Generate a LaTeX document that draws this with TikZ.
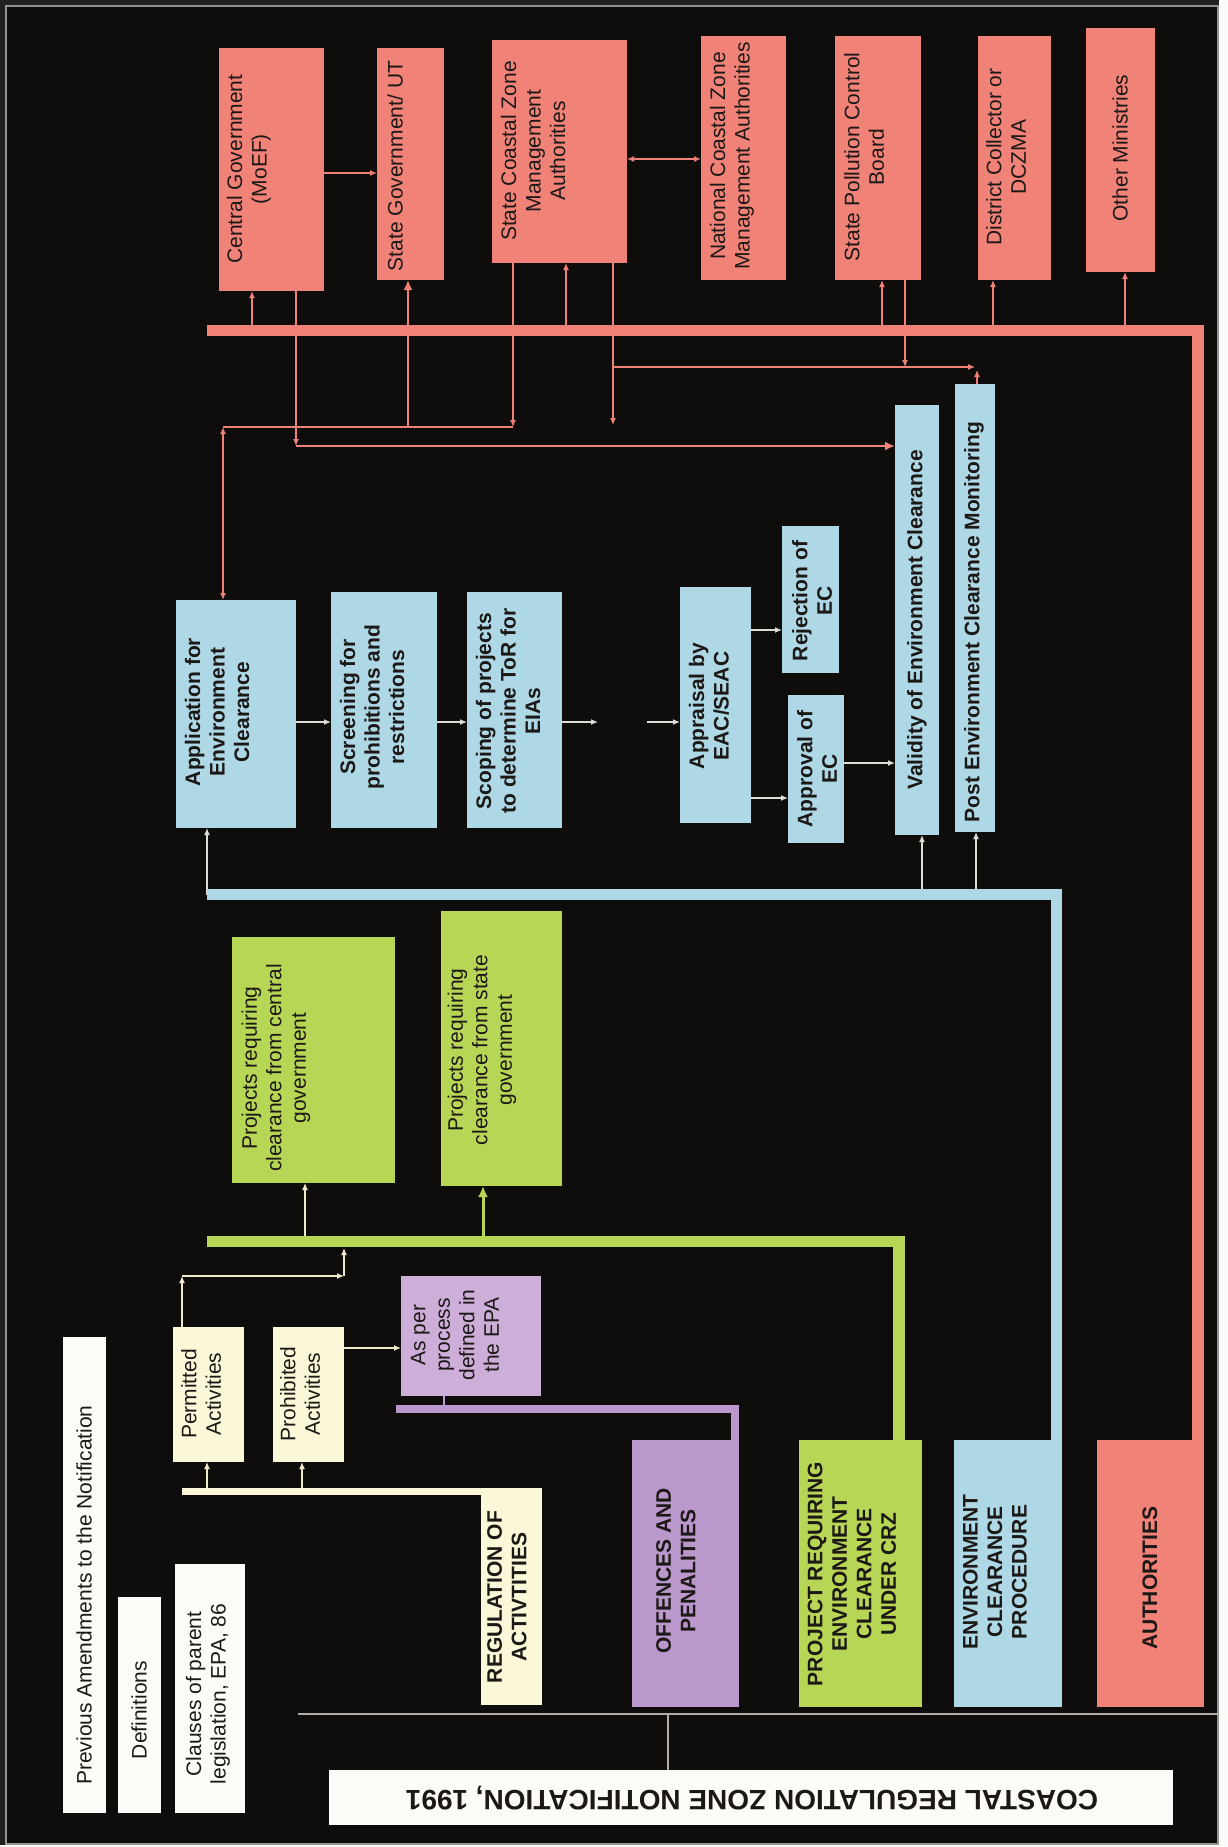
\documentclass[tikz,border=0pt]{standalone}
\usepackage{fontspec}
\setmainfont{Liberation Sans}
\usetikzlibrary{arrows.meta,calc}
\definecolor{bgc}{RGB}{14,13,11}
\definecolor{outc}{RGB}{34,33,32}
\definecolor{framec}{RGB}{150,148,145}
\definecolor{sal}{RGB}{240,130,120}
\definecolor{lbl}{RGB}{174,216,230}
\definecolor{grn}{RGB}{184,214,86}
\definecolor{pur}{RGB}{187,152,204}
\definecolor{purl}{RGB}{205,174,216}
\definecolor{crm}{RGB}{250,248,216}
\definecolor{wht}{RGB}{253,251,248}
\definecolor{txtc}{RGB}{28,24,22}
\definecolor{arrw}{RGB}{222,220,212}
\definecolor{arrc}{RGB}{240,234,204}
\definecolor{linec}{RGB}{180,172,165}
\newcommand\bx[6]{\node[boxs,fill=#6,minimum width={(#4-#2)*1pt},minimum height={(#5-#3)*1pt}] (#1) at ({(#2+#4)/2},{(#3+#5)/2}) {};}
\tikzset{
  boxs/.style={rectangle,draw=none,inner sep=0pt,outer sep=0pt},
  lab/.style={rotate=90,align=center,inner sep=0pt,font=\fontsize{21}{24.5}\selectfont,text=txtc},
  blab/.style={rotate=90,align=center,inner sep=0pt,font=\fontsize{21}{24.5}\selectfont\bfseries,text=txtc},
  ra/.style={draw=sal,line width=1.3pt,-{Latex[length=7pt,width=6pt]}},
  rda/.style={draw=sal,line width=1.6pt,{Latex[length=7pt,width=6pt]}-{Latex[length=7pt,width=6pt]}},
  rt/.style={draw=sal,line width=2.4pt},
  rta/.style={draw=sal,line width=2.6pt,-{Latex[length=10pt,width=9pt]}},
  wa/.style={draw=arrw,line width=1.3pt,-{Latex[length=7pt,width=6pt]}},
  ca/.style={draw=arrc,line width=1.3pt,-{Latex[length=7pt,width=6pt]}},
  gta/.style={draw=grn,line width=3pt,-{Latex[length=11pt,width=10pt]}},
  barline/.style={line width=#1,line join=miter,line cap=butt}
}
\begin{document}
\begin{tikzpicture}[x=1pt,y=-1pt]
% background and frame
\fill[outc] (0,0) rectangle (1227,1847);
\fill[wht] (1219,0) rectangle (1227,1847);
\fill[wht] (0,1845) rectangle (1227,1847);
\draw[framec,line width=1.5pt,fill=bgc] (6,6) rectangle (1218,1844);
\useasboundingbox (0,0) rectangle (1227,1847);

% authorities (red)
\bx{cg}{219}{48}{324}{291}{sal}
\bx{sg}{377}{48}{444}{280}{sal}
\bx{sczma}{492}{40}{627}{263}{sal}
\bx{nczma}{701}{36}{786}{280}{sal}
\bx{spcb}{835}{36}{921}{280}{sal}
\bx{dc}{978}{36}{1051}{280}{sal}
\bx{om}{1086}{28}{1155}{272}{sal}
% environment clearance procedure (blue)
\bx{app}{176}{600}{296}{828}{lbl}
\bx{scr}{331}{592}{437}{828}{lbl}
\bx{sco}{467}{592}{562}{828}{lbl}
\bx{appr}{680}{587}{751}{823}{lbl}
\bx{rej}{782}{526}{839}{673}{lbl}
\bx{apv}{788}{695}{844}{843}{lbl}
\bx{val}{895}{405}{939}{835}{lbl}
\bx{pec}{955}{384}{995}{832}{lbl}
% green
\bx{pcg}{232}{937}{395}{1183}{grn}
\bx{psg}{441}{911}{562}{1186}{grn}
% regulation
\bx{perm}{173}{1327}{244}{1462}{crm}
\bx{proh}{273}{1327}{344}{1462}{crm}
\bx{asper}{401}{1276}{541}{1396}{purl}
% sections
\bx{reg}{481}{1488}{542}{1705}{crm}
\bx{off}{632}{1440}{739}{1707}{pur}
\bx{prec}{799}{1440}{922}{1707}{grn}
\bx{ecp}{954}{1440}{1062}{1707}{lbl}
\bx{aut}{1097}{1440}{1204}{1707}{sal}
% white
\bx{prev}{63}{1337}{106}{1813}{wht}
\bx{def}{118}{1597}{161}{1813}{wht}
\bx{cl}{175}{1564}{245}{1813}{wht}
\bx{title}{329}{1770}{1173}{1825}{wht}

% texts
\node[lab] (cgT) at (249,169) {Central Government\\(MoEF)};
\node[lab] (sgT) at (395,166) {State Government/ UT};
\node[lab] (scT) at (533,151) {State Coastal Zone\\Management\\Authorities};
\node[lab] (ncT) at (732,156) {National Coastal Zone\\Management Authorities};
\node[lab] (spT) at (864,157) {State Pollution Control\\Board};
\node[lab] (dcT) at (1006,157) {District Collector or\\DCZMA};
\node[lab] (omT) at (1120,148) {Other Ministries};
\node[blab] (appT) at (217,712) {Application for\\Environment\\Clearance};
\node[blab] (scrT) at (372,707) {Screening for\\prohibitions and\\restrictions};
\node[blab] (scoT) at (508,711) {Scoping of projects\\to determine ToR for\\EIAs};
\node[blab] (aprT) at (709,706) {Appraisal by\\EAC/SEAC};
\node[blab] (rejT) at (812,601) {Rejection of\\EC};
\node[blab] (apvT) at (817,769) {Approval of\\EC};
\node[blab] (valT) at (917,620) {Validity of Environment Clearance};
\node[blab] (pecT) at (974,622) {Post Environment Clearance Monitoring};
\node[lab] (pcgT) at (276,1068) {Projects requiring\\clearance from central\\government};
\node[lab] (psgT) at (482,1050) {Projects requiring\\clearance from state\\government};
\node[lab] (permT) at (201,1394) {Permitted\\Activities};
\node[lab] (prohT) at (300,1394) {Prohibited\\Activities};
\node[lab] (aspT) at (455,1335) {As per\\process\\defined in\\the EPA};
\node[blab] (regT) at (507,1597) {REGULATION OF\\ACTIVTITIES};
\node[blab] (offT) at (676,1571) {OFFENCES AND\\PENALITIES};
\node[blab] (precT) at (852,1574) {PROJECT REQUIRING\\ENVIRONMENT\\CLEARANCE\\UNDER CRZ};
\node[blab] (ecpT) at (995,1572) {ENVIRONMENT\\CLEARANCE\\PROCEDURE};
\node[blab] (autT) at (1150,1578) {AUTHORITIES};
\node[lab] (prevT) at (84,1595) {Previous Amendments to the Notification};
\node[lab] (defT) at (139,1710) {Definitions};
\node[lab] (clT) at (208,1694) {Clauses of parent\\legislation, EPA, 86};
\node[rotate=180,inner sep=0pt,font=\fontsize{28}{32}\selectfont\bfseries,text=txtc] (titleT) at (752,1798) {COASTAL REGULATION ZONE NOTIFICATION, 1991};

% named coordinates
\coordinate (rbar) at (207,330.5);
\coordinate (bbar) at (207,894.5);
\coordinate (gbar) at (207,1241.5);
\coordinate (pbar) at (396,1408.5);
\coordinate (cbar) at (182,1491.5);
\coordinate (k1) at (296,446);
\coordinate (k2) at (223,427);
\coordinate (k3) at (513,427);
\coordinate (k4) at (613,425);
\coordinate (k5) at (613,367);
\coordinate (k6) at (975,367);
\coordinate (k7) at (977,370);
\coordinate (g1) at (598,722);
\coordinate (g2) at (647,722);
\coordinate (p1) at (182,1276);
\coordinate (p2) at (344,1276);
\coordinate (p3) at (344,1248);
\coordinate (h1) at (298,1714);
\coordinate (h2) at (1218,1714);

% red connectors
\draw[ra] (rbar -| 252,0) -- (cg.south -| 252,0);
\draw[ra] (cg.east |- 0,173) -- (sg.west |- 0,173);
\draw[ra] (cg.south -| k1) -- (k1);
\draw[rta] (k1) -- (val.west |- k1);
\draw[rt] (k2) -- (k3);
\draw[rda] (k2) -- (app.north -| k2);
\draw[ra] (sczma.south -| k3) -- (k3);
\draw[draw=sal,line width=2.8pt,-{Latex[length=10pt,width=9pt]}] (k2 -| 408,0) -- (sg.south -| 408,0);
\draw[ra] (rbar -| 566,0) -- (sczma.south -| 566,0);
\draw[ra] (sczma.south -| k4) -- (k4);
\draw[ra] (k5) -- (k6);
\draw[ra] (pec.north -| k7) -- (k7);
\draw[ra] (rbar -| 882,0) -- (spcb.south -| 882,0);
\draw[ra] (spcb.south -| 905,0) -- (k5 -| 905,0);
\draw[ra] (rbar -| 993,0) -- (dc.south -| 993,0);
\draw[ra] (rbar -| 1125,0) -- (om.south -| 1125,0);
\draw[rda] (sczma.east |- 0,159) -- (nczma.west |- 0,159);

% blue connectors
\draw[wa] (bbar) -- (app.south -| bbar);
\draw[wa] (app.east |- 0,722) -- (scr.west |- 0,722);
\draw[wa] (scr.east |- 0,722) -- (sco.west |- 0,722);
\draw[wa] (sco.east |- g1) -- (g1);
\draw[wa] (g2) -- (appr.west |- g2);
\draw[wa] (appr.east |- 0,630) -- (rej.west |- 0,630);
\draw[wa] (appr.east |- 0,798) -- (apv.west |- 0,798);
\draw[wa] (apv.east |- 0,763) -- (val.west |- 0,763);
\draw[wa] (bbar -| 922,0) -- (val.south -| 922,0);
\draw[wa] (bbar -| 976,0) -- (pec.south -| 976,0);

% green connectors
\draw[ca] (gbar -| 305,0) -- (pcg.south -| 305,0);
\draw[gta] (gbar -| 483,0) -- (psg.south -| 483,0);
\draw[ca] (perm.north -| p1) -- (p1);
\draw[ca] (p1) -- (p2);
\draw[ca] (p2) -- (p3);
\draw[ca] (proh.east |- 0,1348) -- (asper.west |- 0,1348);
\draw[draw=pur,line width=1.3pt] (asper.south -| 444,0) -- (pbar -| 444,0);
\draw[ca] (cbar -| 207,0) -- (perm.south -| 207,0);
\draw[ca] (cbar -| 302,0) -- (proh.south -| 302,0);

% thick bars
\draw[sal,barline=11.5pt] (rbar) -| ([xshift=-6pt]aut.north east);
\draw[lbl,barline=11pt] (bbar) -| ([xshift=-5.5pt]ecp.north east);
\draw[grn,barline=11.5pt] (gbar) -| ([xshift=-23pt]prec.north east);
\draw[pur,barline=8pt] (pbar) -| ([xshift=-4pt]off.north east);
\draw[crm,barline=7pt] (cbar) -- (reg.north west |- cbar);

% thin lines to title
\draw[linec,line width=1.2pt] (h1) -- (h2);
\draw[linec,line width=1.2pt] (h1 -| 668,0) -- (title.north -| 668,0);
\end{tikzpicture}
\end{document}
